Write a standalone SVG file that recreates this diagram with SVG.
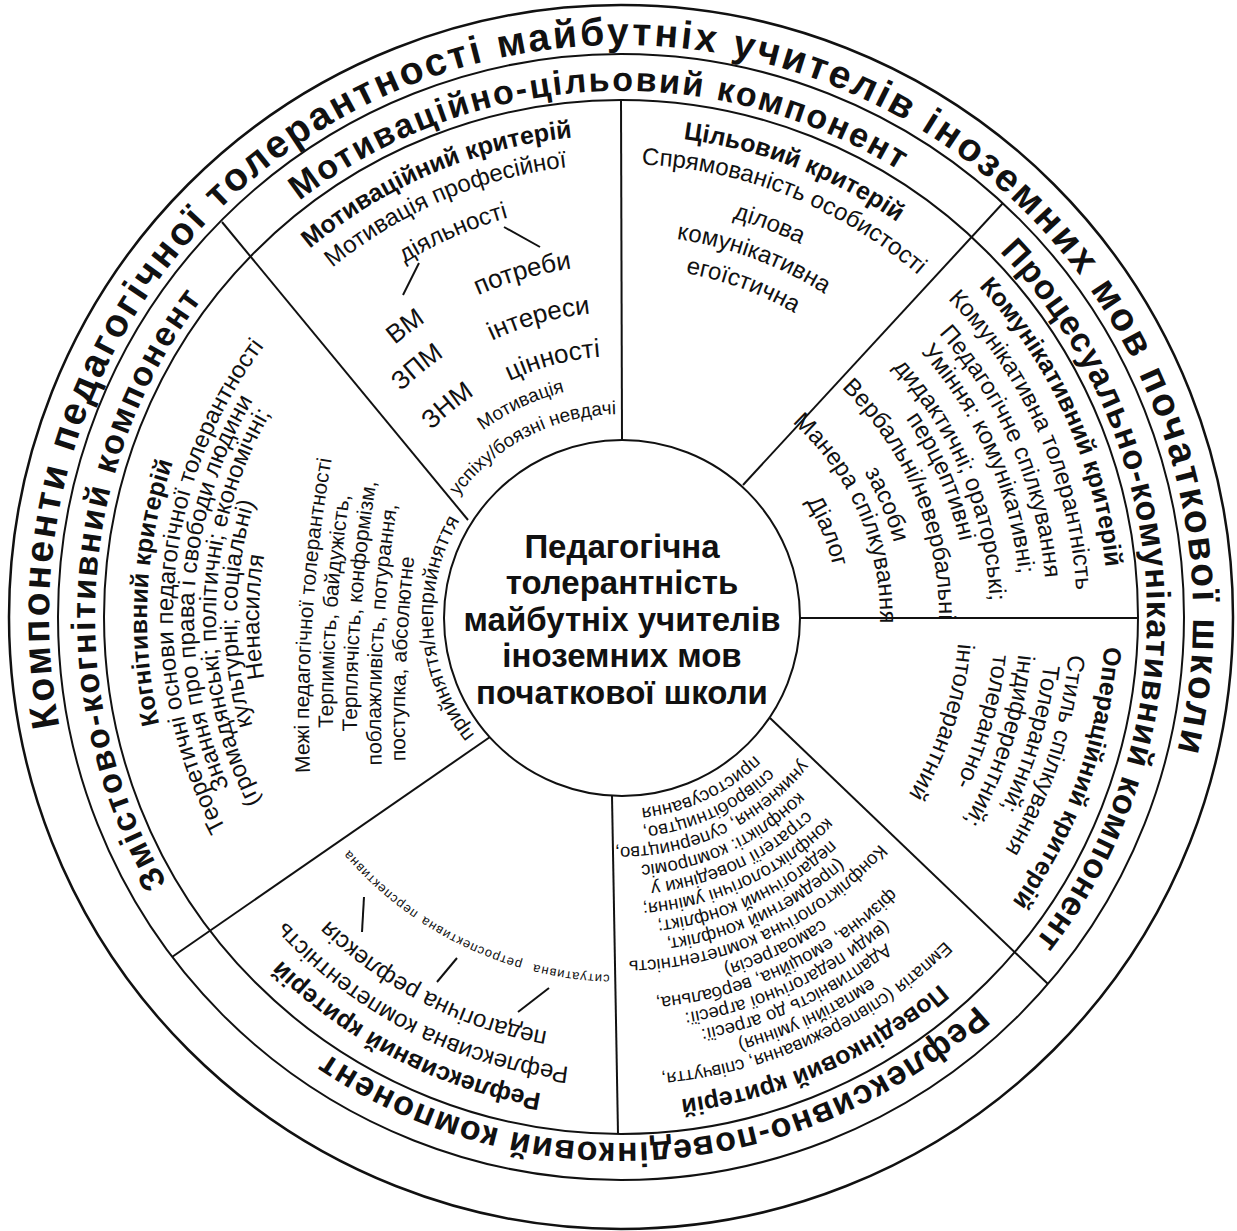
<svg xmlns="http://www.w3.org/2000/svg" width="1237" height="1231" viewBox="0 0 1237 1231">
<style>
text{font-family:"Liberation Sans",Arial,sans-serif;fill:#111;text-anchor:middle}
.o{font-size:39px;font-weight:bold}
.c{font-size:34px;font-weight:bold}
.t{font-size:25px;font-weight:bold}
.n{font-size:24px}
.k{font-size:24px}
.k2{font-size:21px}
.m{font-size:26px}
.s{font-size:19px}
.p{font-size:18.5px}
.xs{font-size:13px;letter-spacing:1px}
.st{text-anchor:start}
.ctr{font-size:33px;font-weight:bold}
.ln{stroke:#111;stroke-width:2;fill:none}
</style>
<defs>
<path id="r572" d="M0 572A572 572 0 0 1 0-572A572 572 0 0 1 0 572"/>
<path id="r526" d="M0 526A526 526 0 0 1 0-526A526 526 0 0 1 0 526"/>
<path id="r487" d="M0 487A487 487 0 0 1 0-487A487 487 0 0 1 0 487"/>
<path id="r486" d="M0 486A486 486 0 0 1 0-486A486 486 0 0 1 0 486"/>
<path id="r484" d="M0 484A484 484 0 0 1 0-484A484 484 0 0 1 0 484"/>
<path id="r483" d="M0 483A483 483 0 0 1 0-483A483 483 0 0 1 0 483"/>
<path id="r482" d="M0 482A482 482 0 0 1 0-482A482 482 0 0 1 0 482"/>
<path id="r474" d="M0 474A474 474 0 0 1 0-474A474 474 0 0 1 0 474"/>
<path id="r458" d="M0 458A458 458 0 0 1 0-458A458 458 0 0 1 0 458"/>
<path id="r456" d="M0 456A456 456 0 0 1 0-456A456 456 0 0 1 0 456"/>
<path id="r453" d="M0 453A453 453 0 0 1 0-453A453 453 0 0 1 0 453"/>
<path id="r449" d="M0 449A449 449 0 0 1 0-449A449 449 0 0 1 0 449"/>
<path id="r448" d="M0 448A448 448 0 0 1 0-448A448 448 0 0 1 0 448"/>
<path id="r439" d="M0 439A439 439 0 0 1 0-439A439 439 0 0 1 0 439"/>
<path id="r427" d="M0 427A427 427 0 0 1 0-427A427 427 0 0 1 0 427"/>
<path id="r426" d="M0 426A426 426 0 0 1 0-426A426 426 0 0 1 0 426"/>
<path id="r425" d="M0 425A425 425 0 0 1 0-425A425 425 0 0 1 0 425"/>
<path id="r421" d="M0 421A421 421 0 0 1 0-421A421 421 0 0 1 0 421"/>
<path id="r420" d="M0 420A420 420 0 0 1 0-420A420 420 0 0 1 0 420"/>
<path id="r415" d="M0 415A415 415 0 0 1 0-415A415 415 0 0 1 0 415"/>
<path id="r414" d="M0 414A414 414 0 0 1 0-414A414 414 0 0 1 0 414"/>
<path id="r405" d="M0 405A405 405 0 0 1 0-405A405 405 0 0 1 0 405"/>
<path id="r401" d="M0 401A401 401 0 0 1 0-401A401 401 0 0 1 0 401"/>
<path id="r400" d="M0 400A400 400 0 0 1 0-400A400 400 0 0 1 0 400"/>
<path id="r399" d="M0 399A399 399 0 0 1 0-399A399 399 0 0 1 0 399"/>
<path id="r384" d="M0 384A384 384 0 0 1 0-384A384 384 0 0 1 0 384"/>
<path id="r382" d="M0 382A382 382 0 0 1 0-382A382 382 0 0 1 0 382"/>
<path id="r374" d="M0 374A374 374 0 0 1 0-374A374 374 0 0 1 0 374"/>
<path id="r369" d="M0 369A369 369 0 0 1 0-369A369 369 0 0 1 0 369"/>
<path id="r363" d="M0 363A363 363 0 0 1 0-363A363 363 0 0 1 0 363"/>
<path id="r362" d="M0 362A362 362 0 0 1 0-362A362 362 0 0 1 0 362"/>
<path id="r358" d="M0 358A358 358 0 0 1 0-358A358 358 0 0 1 0 358"/>
<path id="r354" d="M0 354A354 354 0 0 1 0-354A354 354 0 0 1 0 354"/>
<path id="r352" d="M0 352A352 352 0 0 1 0-352A352 352 0 0 1 0 352"/>
<path id="r350" d="M0 350A350 350 0 0 1 0-350A350 350 0 0 1 0 350"/>
<path id="r347" d="M0 347A347 347 0 0 1 0-347A347 347 0 0 1 0 347"/>
<path id="r344" d="M0 344A344 344 0 0 1 0-344A344 344 0 0 1 0 344"/>
<path id="r338" d="M0 338A338 338 0 0 1 0-338A338 338 0 0 1 0 338"/>
<path id="r325" d="M0 325A325 325 0 0 1 0-325A325 325 0 0 1 0 325"/>
<path id="r318" d="M0 318A318 318 0 0 1 0-318A318 318 0 0 1 0 318"/>
<path id="r315" d="M0 315A315 315 0 0 1 0-315A315 315 0 0 1 0 315"/>
<path id="r306" d="M0 306A306 306 0 0 1 0-306A306 306 0 0 1 0 306"/>
<path id="r305" d="M0 305A305 305 0 0 1 0-305A305 305 0 0 1 0 305"/>
<path id="r287" d="M0 287A287 287 0 0 1 0-287A287 287 0 0 1 0 287"/>
<path id="r283" d="M0 283A283 283 0 0 1 0-283A283 283 0 0 1 0 283"/>
<path id="r268" d="M0 268A268 268 0 0 1 0-268A268 268 0 0 1 0 268"/>
<path id="r266" d="M0 266A266 266 0 0 1 0-266A266 266 0 0 1 0 266"/>
<path id="r261" d="M0 261A261 261 0 0 1 0-261A261 261 0 0 1 0 261"/>
<path id="r259" d="M0 259A259 259 0 0 1 0-259A259 259 0 0 1 0 259"/>
<path id="r249" d="M0 249A249 249 0 0 1 0-249A249 249 0 0 1 0 249"/>
<path id="r232" d="M0 232A232 232 0 0 1 0-232A232 232 0 0 1 0 232"/>
<path id="r230" d="M0 230A230 230 0 0 1 0-230A230 230 0 0 1 0 230"/>
<path id="r218" d="M0 218A218 218 0 0 1 0-218A218 218 0 0 1 0 218"/>
<path id="r211" d="M0 211A211 211 0 0 1 0-211A211 211 0 0 1 0 211"/>
<path id="r203" d="M0 203A203 203 0 0 1 0-203A203 203 0 0 1 0 203"/>
<path id="r192" d="M0 192A192 192 0 0 1 0-192A192 192 0 0 1 0 192"/>
<path id="r188" d="M0 188A188 188 0 0 1 0-188A188 188 0 0 1 0 188"/>
<path id="g2a" d="M317.2 877A1510 1510 0 0 1 353.3 357"/>
<path id="g2b" d="M340.9 873A1486 1486 0 0 1 379 353"/>
<path id="g2c" d="M364.5 868A1462 1462 0 0 1 405.1 348"/>
<path id="g2d" d="M391.8 896A1438 1438 0 0 1 422.8 376"/>
<path id="g2e" d="M419.2 920A1414 1414 0 0 1 441.7 400"/>
</defs>
<rect width="1237" height="1231" fill="#fff"/>

<g id="rings" class="ln">
<circle cx="621" cy="617" r="612" stroke-width="2.5"/>
<circle cx="621" cy="617" r="563"/>
<circle cx="621" cy="617" r="517"/>
</g>

<g id="connectors" class="ln">
<path d="M622 440L621 100"/>
<path d="M468 520L222 222"/>
<path d="M743 485L1003 203"/>
<path d="M800 618L1138 618"/>
<path d="M770 718L1048 984"/>
<path d="M612 796L618 1134"/>
<path d="M490 737L172 957"/>
<path d="M419 263L403 295"/>
<path d="M504 227L540 247"/>
<path d="M549 988L518 1012"/>
<path d="M457 958L437 982"/>
<path d="M364 897L362 932"/>
</g>

<g id="title-ring">
<g transform="translate(621 617) rotate(1.25)"><text class="o"><textPath href="#r572" startOffset="50%" textLength="2042" lengthAdjust="spacing">Компоненти педагогічної толерантності майбутніх учителів іноземних мов початкової школи</textPath></text></g>
</g>

<g id="components">
<g transform="translate(621 617) rotate(-2.9)"><text class="c"><textPath href="#r526" startOffset="50%" textLength="639" lengthAdjust="spacing">Мотиваційно-цільовий компонент</textPath></text></g>
<g transform="translate(621 617) rotate(87)"><text class="c"><textPath href="#r526" startOffset="50%" textLength="753" lengthAdjust="spacing">Процесуально-комунікативний компонент</textPath></text></g>
<g transform="translate(621 617) rotate(-184.25)"><text class="c"><textPath href="#r526" startOffset="50%" textLength="702" lengthAdjust="spacing">Рефлексивно-поведінковий компонент</textPath></text></g>
<g transform="translate(621 617) rotate(-86.6)"><text class="c"><textPath href="#r526" startOffset="50%" textLength="620" lengthAdjust="spacing">Змістово-когнітивний компонент</textPath></text></g>
</g>

<g id="center">
<circle cx="622" cy="618" r="178" class="ln"/>
<text class="ctr" x="622" y="558">Педагогічна</text>
<text class="ctr" x="622" y="594">толерантність</text>
<text class="ctr" x="622" y="631">майбутніх учителів</text>
<text class="ctr" x="622" y="667">іноземних мов</text>
<text class="ctr" x="622" y="704">початкової школи</text>
</g>

<g id="motivational">
<g transform="translate(621 617) rotate(-23)"><text class="t"><textPath href="#r482" startOffset="50%">Мотиваційний критерій</textPath></text></g>
<g transform="translate(621 617) rotate(-23.2)"><text class="n"><textPath href="#r453" startOffset="50%">Мотивація професійної</textPath></text></g>
<g transform="translate(621 617) rotate(-23.6)"><text class="n"><textPath href="#r415" startOffset="50%">діяльності</textPath></text></g>
<g transform="translate(621 617) rotate(-36.6)"><text class="m"><textPath href="#r354" startOffset="50%">ВМ</textPath></text></g>
<g transform="translate(621 617) rotate(-39.2)"><text class="m"><textPath href="#r315" startOffset="50%">ЗПМ</textPath></text></g>
<g transform="translate(621 617) rotate(-39.4)"><text class="m"><textPath href="#r266" startOffset="50%">ЗНМ</textPath></text></g>
<g transform="translate(621 617) rotate(-16)"><text class="m"><textPath href="#r352" startOffset="50%">потреби</textPath></text></g>
<g transform="translate(621 617) rotate(-15.4)"><text class="m"><textPath href="#r305" startOffset="50%">інтереси</textPath></text></g>
<g transform="translate(621 617) rotate(-14.9)"><text class="m"><textPath href="#r261" startOffset="50%">цінності</textPath></text></g>
<g transform="translate(621 617) rotate(-25.3)"><text class="s"><textPath href="#r232" startOffset="50%">Мотивація</textPath></text></g>
<g transform="translate(621 617) rotate(-27.4)"><text class="s"><textPath href="#r203" startOffset="50%">успіху/боязні невдачі</textPath></text></g>
</g>

<g id="target">
<g transform="translate(621 617) rotate(21.2)"><text class="t"><textPath href="#r482" startOffset="50%">Цільовий критерій</textPath></text></g>
<g transform="translate(621 617) rotate(21.8)"><text class="n"><textPath href="#r453" startOffset="50%">Спрямованість особистості</textPath></text></g>
<g transform="translate(621 617) rotate(20.7)"><text class="n"><textPath href="#r414" startOffset="50%">ділова</textPath></text></g>
<g transform="translate(621 617) rotate(20.3)"><text class="n"><textPath href="#r382" startOffset="50%">комунікативна</textPath></text></g>
<g transform="translate(621 617) rotate(20.2)"><text class="n"><textPath href="#r350" startOffset="50%">егоїстична</textPath></text></g>
</g>

<g id="communicative">
<g transform="translate(621 617) rotate(65.7)"><text class="t"><textPath href="#r487" startOffset="50%">Комунікативний критерій</textPath></text></g>
<g transform="translate(621 617) rotate(66.2)"><text class="n"><textPath href="#r456" startOffset="50%">Комунікативна толерантність</textPath></text></g>
<g transform="translate(621 617) rotate(66.5)"><text class="n"><textPath href="#r426" startOffset="50%">Педагогічне спілкування</textPath></text></g>
<g transform="translate(621 617) rotate(66.2)"><text class="n"><textPath href="#r400" startOffset="50%">Уміння: комунікативні;</textPath></text></g>
<g transform="translate(621 617) rotate(67.5)"><text class="n"><textPath href="#r369" startOffset="50%">дидактичні; ораторські;</textPath></text></g>
<g transform="translate(621 617) rotate(66.3)"><text class="n"><textPath href="#r347" startOffset="50%">перцептивні</textPath></text></g>
<g transform="translate(621 617) rotate(67.2)"><text class="n"><textPath href="#r318" startOffset="50%">Вербальні/невербальні</textPath></text></g>
<g transform="translate(621 617) rotate(67)"><text class="n"><textPath href="#r283" startOffset="50%">засоби</textPath></text></g>
<g transform="translate(621 617) rotate(66.4)"><text class="n"><textPath href="#r259" startOffset="50%">Манера спілкування</textPath></text></g>
<g transform="translate(621 617) rotate(67.4)"><text class="n"><textPath href="#r218" startOffset="50%">Діалог</textPath></text></g>
</g>

<g id="operational">
<g transform="translate(621 617) rotate(93.5)"><text class="t st"><textPath href="#r484" startOffset="50%">Операційний критерій</textPath></text></g>
<g transform="translate(621 617) rotate(94.8)"><text class="n st"><textPath href="#r449" startOffset="50%">Стиль спілкування</textPath></text></g>
<g transform="translate(621 617) rotate(96.4)"><text class="n st"><textPath href="#r425" startOffset="50%">Толерантний;</textPath></text></g>
<g transform="translate(621 617) rotate(95.4)"><text class="n st"><textPath href="#r399" startOffset="50%">індиферентний;</textPath></text></g>
<g transform="translate(621 617) rotate(95.7)"><text class="n st"><textPath href="#r374" startOffset="50%">толерантно-</textPath></text></g>
<g transform="translate(621 617) rotate(94.5)"><text class="n st"><textPath href="#r338" startOffset="50%">інтолерантний</textPath></text></g>
</g>

<g id="behavioral">
<g transform="translate(621 617) rotate(-204)"><text class="t"><textPath href="#r486" startOffset="50%">Поведінковий критерій</textPath></text></g>
<g transform="translate(621 617) rotate(-205)"><text class="p"><textPath href="#r458" startOffset="50%">Емпатія (співпереживання, співчуття,</textPath></text></g>
<g transform="translate(621 617) rotate(-205)"><text class="p"><textPath href="#r439" startOffset="50%">емпатійні уміння)</textPath></text></g>
<g transform="translate(621 617) rotate(-205)"><text class="p"><textPath href="#r420" startOffset="50%">Адаптивність до агресії:</textPath></text></g>
<g transform="translate(621 617) rotate(-205)"><text class="p"><textPath href="#r401" startOffset="50%">(види педагогічної агресії:</textPath></text></g>
<g transform="translate(621 617) rotate(-205)"><text class="p"><textPath href="#r382" startOffset="50%">фізична, емоційна, вербальна,</textPath></text></g>
<g transform="translate(621 617) rotate(-205)"><text class="p"><textPath href="#r363" startOffset="50%">самоагресія)</textPath></text></g>
<g transform="translate(621 617) rotate(-205)"><text class="p"><textPath href="#r344" startOffset="50%">Конфліктологічна компетентність</textPath></text></g>
<g transform="translate(621 617) rotate(-205)"><text class="p"><textPath href="#r325" startOffset="50%">(предметний конфлікт,</textPath></text></g>
<g transform="translate(621 617) rotate(-205)"><text class="p"><textPath href="#r306" startOffset="50%">педагогічний конфлікт;</textPath></text></g>
<g transform="translate(621 617) rotate(-205)"><text class="p"><textPath href="#r287" startOffset="50%">конфліктологічні уміння;</textPath></text></g>
<g transform="translate(621 617) rotate(-205)"><text class="p"><textPath href="#r268" startOffset="50%">стратегії поведінки у</textPath></text></g>
<g transform="translate(621 617) rotate(-205)"><text class="p"><textPath href="#r249" startOffset="50%">конфлікті: компроміс</textPath></text></g>
<g transform="translate(621 617) rotate(-205)"><text class="p"><textPath href="#r230" startOffset="50%">уникнення, суперництво,</textPath></text></g>
<g transform="translate(621 617) rotate(-205)"><text class="p"><textPath href="#r211" startOffset="50%">співробітництво,</textPath></text></g>
<g transform="translate(621 617) rotate(-205)"><text class="p"><textPath href="#r192" startOffset="50%">пристосування</textPath></text></g>
</g>

<g id="reflexive">
<g transform="translate(621 617) rotate(-152.9)"><text class="t"><textPath href="#r483" startOffset="50%">Рефлексивний критерій</textPath></text></g>
<g transform="translate(621 617) rotate(-152.8)"><text class="n"><textPath href="#r453" startOffset="50%">Рефлексивна компетентність</textPath></text></g>
<g transform="translate(621 617) rotate(-153)"><text class="n"><textPath href="#r421" startOffset="50%">педагогічна рефлексія</textPath></text></g>
<g transform="translate(621 617) rotate(-172)"><text class="xs"><textPath href="#r358" startOffset="50%">ситуативна</textPath></text></g>
<g transform="translate(621 617) rotate(-155.3)"><text class="xs"><textPath href="#r358" startOffset="50%">ретроспективна</textPath></text></g>
<g transform="translate(621 617) rotate(-138)"><text class="xs"><textPath href="#r358" startOffset="50%">перспективна</textPath></text></g>
</g>

<g id="cognitive">
<g transform="translate(621 617) rotate(-87)"><text class="t"><textPath href="#r474" startOffset="50%">Когнітивний критерій</textPath></text></g>
<g transform="translate(621 617) rotate(-85.5)"><text class="k"><textPath href="#r448" startOffset="50%">Теоретичні основи педагогічної толерантності</textPath></text></g>
<g transform="translate(621 617) rotate(-86.5)"><text class="k"><textPath href="#r427" startOffset="50%">Знання про права і свободи людини</textPath></text></g>
<g transform="translate(621 617) rotate(-88.5)"><text class="k"><textPath href="#r405" startOffset="50%">(громадянські; політичні; економічні;</textPath></text></g>
<g transform="translate(621 617) rotate(-89.5)"><text class="k"><textPath href="#r384" startOffset="50%">культурні; соціальні)</textPath></text></g>
<g transform="translate(621 617) rotate(-90)"><text class="k"><textPath href="#r362" startOffset="50%">Ненасилля</textPath></text></g>
<text class="k2"><textPath href="#g2a" startOffset="50%">Межі педагогічної толерантності</textPath></text>
<text class="k2"><textPath href="#g2b" startOffset="50%">Терпимість, байдужість,</textPath></text>
<text class="k2"><textPath href="#g2c" startOffset="50%">Терплячість, конформізм,</textPath></text>
<text class="k2"><textPath href="#g2d" startOffset="50%">поблажливість, потурання,</textPath></text>
<text class="k2"><textPath href="#g2e" startOffset="50%">поступка, абсолютне</textPath></text>
<g transform="translate(621 617) rotate(-94)"><text class="k2"><textPath href="#r188" startOffset="50%">прийняття/неприйняття</textPath></text></g>
</g>
</svg>
